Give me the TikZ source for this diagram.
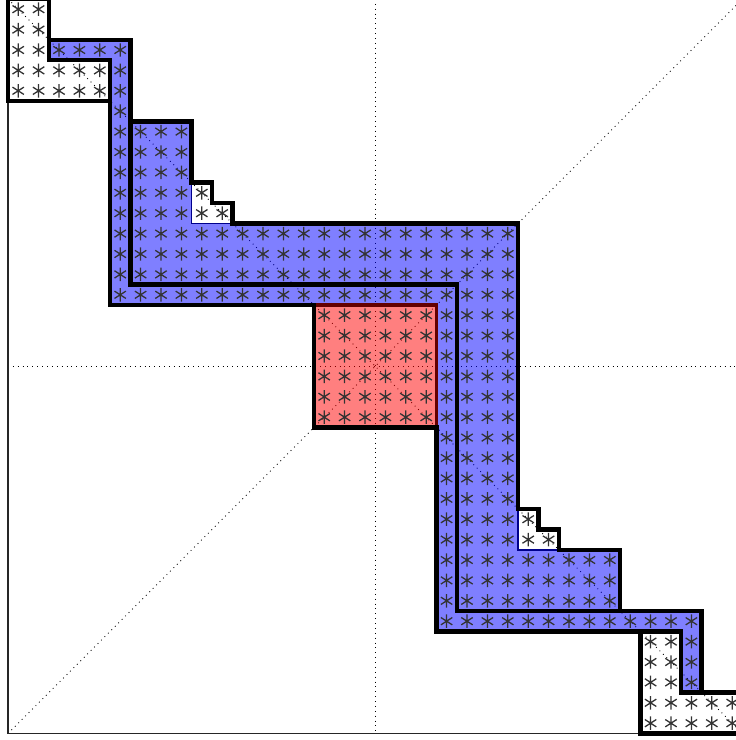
\documentclass[tikz,border=0pt]{standalone}
\usepackage{xcolor}
\definecolor{edgeblue}{RGB}{0,0,140}
\definecolor{edgered}{RGB}{100,0,0}
\tikzset{
    ast/.pic={
        \draw[black!80, line width=0.9pt] (0,-0.33) -- (0,0.33)
            (-0.28,-0.18) -- (0.28,0.18) (-0.28,0.18) -- (0.28,-0.18);
    }
}

\begin{document}
\begin{tikzpicture}[x=0.5cm,y=-0.5cm, line join=miter]

\tikzset{
  outline/.style={draw=black, line width=3pt},
  guide/.style={draw=black, line width=0.6pt, dash pattern=on 0.6pt off 2.8pt},
  frame/.style={draw=black!85, line width=0.8pt},
  blk/.style={fill=blue, fill opacity=0.5, draw=edgeblue, line width=1pt},
  sep/.style={fill=red, fill opacity=0.5, draw=edgered, line width=2.4pt},
}

\useasboundingbox (-0.392,0.049) rectangle (35.686,36.324);

% guide lines
\draw[guide] (18,0) -- (18,36);
\draw[guide] (0,18) -- (36,18);
\draw[guide] (0,0) -- (36,36);
\draw[guide] (0,36) -- (36,0);

% band
\draw[blk] (2,2) -- (6,2) -- (6,14) -- (22,14) -- (22,30) -- (34,30) -- (34,34)
  -- (33,34) -- (33,31) -- (21,31) -- (21,15) -- (5,15) -- (5,3) -- (2,3) -- cycle;

% inner blocks
\draw[blk] (6,6) -- (9,6) -- (9,11) -- (25,11) -- (25,27) -- (30,27) -- (30,30)
  -- (22,30) -- (22,14) -- (6,14) -- cycle;

% separator
\draw[sep] (15,15) rectangle (21,21);

% axes
\draw[frame] (0,0) -- (0,36) -- (36,36);

% entries
\foreach \ca/\cb/\ra/\rb in {0/1/0/2, 0/4/3/4, 2/5/2/2, 5/5/3/14, 6/21/14/14,
    21/21/15/30, 22/33/30/30, 33/33/31/33, 6/8/6/10, 9/9/9/9, 9/10/10/10,
    6/24/11/13, 22/24/14/26, 25/25/25/25, 25/26/26/26, 22/29/27/29,
    15/20/15/20, 31/32/31/33, 31/35/34/35}
  \foreach \i in {\ca,...,\cb}
    \foreach \j in {\ra,...,\rb}
      \pic at (\i+0.5,\j+0.5) {ast};

% outlines
\draw[outline] (0,0) -- (2,0) -- (2,2) -- (6,2) -- (6,6) -- (9,6) -- (9,9) -- (10,9)
  -- (10,10) -- (11,10) -- (11,11) -- (25,11) -- (25,25) -- (26,25) -- (26,26)
  -- (27,26) -- (27,27) -- (30,27) -- (30,30) -- (34,30) -- (34,34) -- (36,34)
  -- (36,36) -- (31,36) -- (31,31) -- (21,31) -- (21,21) -- (15,21) -- (15,15)
  -- (5,15) -- (5,5) -- (0,5) -- cycle;
\draw[outline] (2,2) -- (2,3) -- (5,3) -- (5,5);
\draw[outline] (6,6) -- (6,14) -- (22,14) -- (22,30) -- (30,30);
\draw[outline] (31,31) -- (33,31) -- (33,34) -- (34,34);

\end{tikzpicture}
\end{document}
